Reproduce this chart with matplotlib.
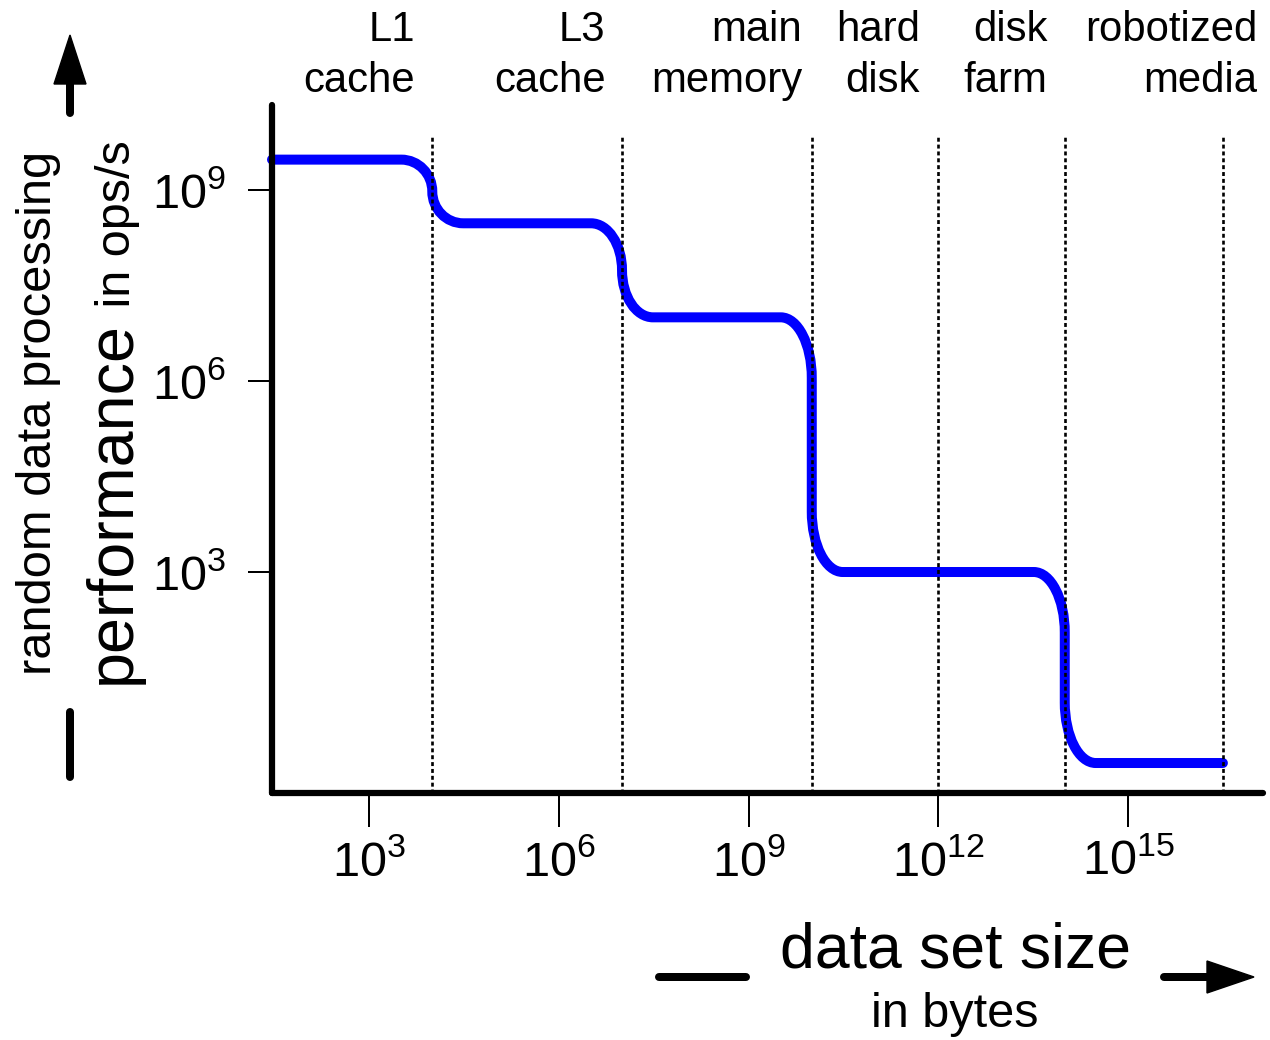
import numpy as np
import matplotlib
matplotlib.use("Agg")
import matplotlib.pyplot as plt
from matplotlib.path import Path
from matplotlib.patches import PathPatch, Polygon
from matplotlib.ticker import FixedLocator, NullLocator
import matplotlib.transforms as mtransforms

plt.rcParams['font.family'] = ['Liberation Sans', 'DejaVu Sans']
plt.rcParams['mathtext.default'] = 'regular'

# ---------------- data ----------------
tiers = ["L1\ncache", "L3\ncache", "main\nmemory", "hard\ndisk", "disk\nfarm", "robotized\nmedia"]
tier_upper_bytes = [1e4, 1e7, 1e10, 1e12, 1e14, 10 ** 16.5]
tier_ops_per_s = [3e9, 3e8, 1e7, 1e3, 1e3, 1e0]
x_tick_exponents = [3, 6, 9, 12, 15]
y_tick_exponents = [3, 6, 9]
x_limits = (10 ** 1.466, 10 ** 17.134)
y_limits = (10 ** -0.471, 10 ** 10.335)
divider_top = 10 ** 9.86

# ---------------- style / layout ----------------
W_PX = 1270
H_PX = 1040
STEP_HALF_WIDTH = 0.49   # decades
CORNER_MAX = 0.95        # decades
KAPPA = 0.5523
label_dx_px = [-17.5, -16.5, -9.5, -18.5, -17.5, 34.5]

fig = plt.figure(figsize=(W_PX / 100, H_PX / 100), dpi=100)
ax = fig.add_axes([272 / W_PX, 1 - 793 / H_PX, (1263 - 272) / W_PX, (793 - 105) / H_PX])
ax.set_xscale('log')
ax.set_yscale('log')
ax.set_xlim(x_limits)
ax.set_ylim(y_limits)
ax.patch.set_alpha(0)

for s in ['top', 'right']:
    ax.spines[s].set_visible(False)
for s in ['left', 'bottom']:
    ax.spines[s].set_linewidth(4.5)
    ax.spines[s].set_capstyle('round')
    ax.spines[s].set_zorder(4)

ax.xaxis.set_major_locator(FixedLocator([10.0 ** e for e in x_tick_exponents]))
ax.yaxis.set_major_locator(FixedLocator([10.0 ** e for e in y_tick_exponents]))
ax.xaxis.set_minor_locator(NullLocator())
ax.yaxis.set_minor_locator(NullLocator())
ax.set_xticklabels([r'$\mathregular{10^{%d}}$' % e for e in x_tick_exponents])
ax.set_yticklabels([r'$\mathregular{10^{%d}}$' % e for e in y_tick_exponents])
ax.tick_params(axis='x', direction='out', length=24.5, width=1.44, pad=9.0, labelsize=35)
ax.tick_params(axis='y', direction='out', length=17.3, width=1.44, pad=16.0, labelsize=35)

# ---------------- performance curve (Bezier path in log space) ----------------
lg = np.log10
verts, codes = [], []


def add(px, py, code):
    verts.append((10 ** px, 10 ** py))
    codes.append(code)


add(lg(x_limits[0]), lg(tier_ops_per_s[0]), Path.MOVETO)
w = STEP_HALF_WIDTH
for i in range(len(tiers) - 1):
    c = lg(tier_upper_bytes[i])
    top = lg(tier_ops_per_s[i])
    bot = lg(tier_ops_per_s[i + 1])
    if top == bot:
        continue
    r = min((top - bot) / 2, CORNER_MAX)
    add(c - w, top, Path.LINETO)
    add(c - w + KAPPA * w, top, Path.CURVE4)
    add(c, top - r + KAPPA * r, Path.CURVE4)
    add(c, top - r, Path.CURVE4)
    if bot + r < top - r:
        add(c, bot + r, Path.LINETO)
    add(c, bot + r - KAPPA * r, Path.CURVE4)
    add(c + w - KAPPA * w, bot, Path.CURVE4)
    add(c + w, bot, Path.CURVE4)
add(lg(tier_upper_bytes[-1]), lg(tier_ops_per_s[-1]), Path.LINETO)

curve = PathPatch(Path(verts, codes), facecolor='none', edgecolor='#0000ff',
                  linewidth=7.2, capstyle='round', joinstyle='round',
                  clip_on=False, zorder=2)
ax.add_patch(curve)

ax.vlines(tier_upper_bytes, y_limits[0], divider_top, colors='black',
          linestyles=[(0, (1.5, 1.1))], linewidth=1.9, zorder=3)

# ---------------- overlay in pixel coordinates ----------------
ov = fig.add_axes([0, 0, 1, 1], zorder=5)
ov.set_xlim(0, W_PX)
ov.set_ylim(H_PX, 0)
ov.axis('off')
ov.patch.set_visible(False)

blend = mtransforms.blended_transform_factory(ax.transData, ov.transData)
for name, xb, dx in zip(tiers, tier_upper_bytes, label_dx_px):
    tr = mtransforms.offset_copy(blend, fig=fig, x=dx, y=0, units='dots')
    l1, l2 = name.split('\n')
    ov.text(xb, 41, l1, transform=tr, ha='right', va='baseline', fontsize=30.2)
    ov.text(xb, 92, l2, transform=tr, ha='right', va='baseline', fontsize=30.2)

# y-axis label
ov.text(51, 675, 'random data processing', rotation=90, rotation_mode='anchor',
        ha='left', va='baseline', fontsize=35.2)
t_perf = ov.text(130, 684, 'performance', rotation=90, rotation_mode='anchor',
                 ha='left', va='baseline', fontsize=46.5)
fig.canvas.draw()
bb = t_perf.get_window_extent()
y_end = ov.transData.inverted().transform((bb.x0, bb.y1))[1]
ov.text(130, y_end, ' in ops/s', rotation=90, rotation_mode='anchor',
        ha='left', va='baseline', fontsize=35)

# x-axis label
ov.text(956, 968, 'data set size', ha='center', va='baseline', fontsize=45)
ov.text(955, 1027, 'in bytes', ha='center', va='baseline', fontsize=35)

# decorative axis arrows
LW = 5.76
ov.plot([70, 70], [113, 84], color='black', lw=LW, solid_capstyle='round')
ov.add_patch(Polygon([(54, 84), (86, 84), (70, 35)], closed=True, color='black'))
ov.plot([70, 70], [712, 777], color='black', lw=LW, solid_capstyle='round')
ov.plot([659, 746], [977, 977], color='black', lw=LW, solid_capstyle='round')
ov.plot([1164, 1212], [977, 977], color='black', lw=LW, solid_capstyle='round')
ov.add_patch(Polygon([(1207, 961), (1207, 993), (1254, 977)], closed=True, color='black'))

fig.savefig('out.png', dpi=100)
